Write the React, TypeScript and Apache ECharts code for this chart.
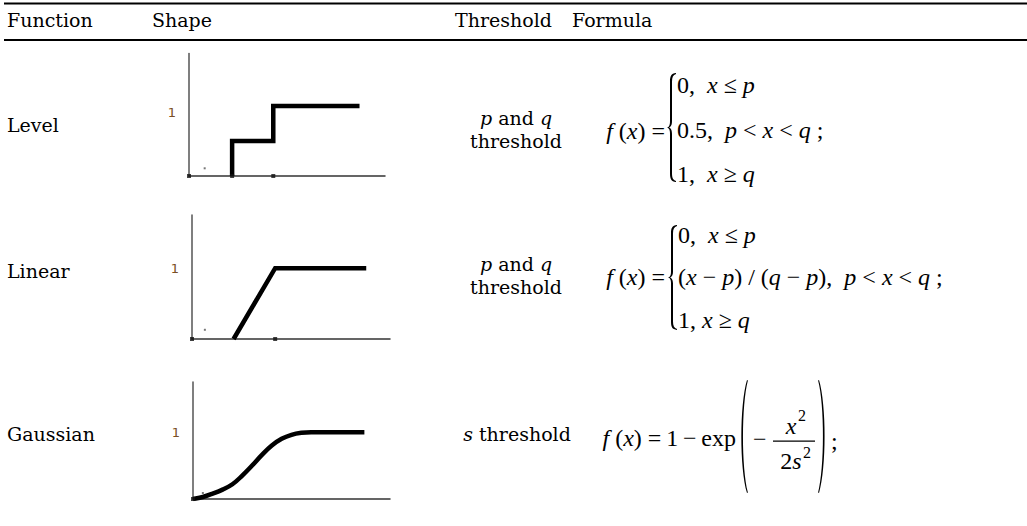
import React, { useEffect, useRef } from 'react';
import * as echarts from 'echarts';

// ---------- data ----------
const headers = ['Function', 'Shape', 'Threshold', 'Formula'];
const functionNames = ['Level', 'Linear', 'Gaussian'];
const yTickValue = 1;

const levelX = [2.2, 2.2, 4.3, 4.3, 8.7];
const levelY = [0, 0.5, 0.5, 1, 1];
const levelTicks = [0, 2.2, 4.3];

const linearX = [2.1, 4.2, 8.8];
const linearY = [0, 1, 1];
const linearTicks = [0, 4.2];

const gaussX = [0, 0.5, 1, 1.5, 2, 2.5, 3, 3.5, 4, 4.5, 5, 5.5, 6, 8.7];
const gaussY = [0, 0.03, 0.08, 0.14, 0.22, 0.35, 0.5, 0.66, 0.8, 0.9, 0.96, 0.99, 1, 1];
const gaussTicks = [0];

const strayX = [0.8, 0.65, 0.5];
const strayY = [0.11, 0.13, 0.09];

// ---------- shapes ----------
const BRACE =
  'M9,0 C4,0.5 3,3 3,8 L3,44 C3,48 2,49.5 0,50 C2,50.5 3,52 3,56 L3,92 C3,97 4,99.5 9,100 L9,99.1 C6,98.4 5,96 5,92 L5,56 C5,52 3.8,50.8 2,50 C3.8,49.2 5,48 5,44 L5,8 C5,4 6,1.6 9,0.9 Z';
const LPAREN = 'M8,0 C0.5,22 0.5,78 8,100 L8.9,99.5 C2.4,78 2.4,22 8.9,0.5 Z';
const RPAREN = 'M1,0 C8.5,22 8.5,78 1,100 L0.1,99.5 C6.6,78 6.6,22 0.1,0.5 Z';
echarts.graphic.registerShape('brace', echarts.graphic.extendPath(BRACE, {}));
echarts.graphic.registerShape('lparen', echarts.graphic.extendPath(LPAREN, {}));
echarts.graphic.registerShape('rparen', echarts.graphic.extendPath(RPAREN, {}));

const BODY = '"DejaVu Serif"';
const MATH = '"Liberation Serif"';
const MS = 24;

const rich: any = {
  i: { fontFamily: MATH, fontSize: MS, fontStyle: 'italic', fill: '#000', color: '#000' },
  n: { fontFamily: MATH, fontSize: MS, fill: '#000', color: '#000' },
  s: { fontFamily: MATH, fontSize: 16, fill: '#000', color: '#000' },
  bi: { fontFamily: BODY, fontSize: 19, fontStyle: 'italic', fill: '#000', color: '#000' },
  bn: { fontFamily: BODY, fontSize: 19, fill: '#000', color: '#000' },
};

function txt(x: number, y: number, text: string, align = 'left') {
  return {
    type: 'text',
    x,
    y,
    style: {
      text,
      rich,
      fill: '#000',
      fontFamily: BODY,
      fontSize: 19,
      align,
      verticalAlign: 'middle',
      textAlign: align,
      textVerticalAlign: 'middle',
    },
  };
}

const grids = [
  { left: 189, top: 53.5, width: 196, height: 122.5 },
  { left: 192, top: 215, width: 198, height: 124 },
  { left: 193, top: 382, width: 197, height: 117 },
];
const labelAlign = ['top', 'middle', 'middle'];

export default function App() {
  const ref = useRef<HTMLDivElement>(null);
  useEffect(() => {
    if (!ref.current) return;
    const chart = echarts.init(ref.current, undefined, { renderer: 'svg' });
    const zip = (xs: number[], ys: number[]) => xs.map((x, i) => [x, ys[i]]);
    const lines = [zip(levelX, levelY), zip(linearX, linearY), zip(gaussX, gaussY)];
    const ticks = [levelTicks, linearTicks, gaussTicks];

    const series: any[] = [];
    lines.forEach((d, i) => {
      series.push({
        type: 'line',
        xAxisIndex: i,
        yAxisIndex: i,
        data: d,
        showSymbol: false,
        smooth: i === 2 ? 0.4 : false,
        lineStyle: { color: '#000', width: 4.5, cap: 'butt', join: 'miter' },
        z: 5,
      });
      series.push({
        type: 'scatter',
        xAxisIndex: i,
        yAxisIndex: i,
        data: ticks[i].map((x) => [x, 0]),
        symbol: 'rect',
        symbolSize: 4,
        itemStyle: { color: '#111' },
        z: 6,
      });
      series.push({
        type: 'scatter',
        xAxisIndex: i,
        yAxisIndex: i,
        data: [[strayX[i], strayY[i]]],
        symbol: 'rect',
        symbolSize: 2,
        itemStyle: { color: '#555' },
        z: 6,
      });
    });

    const graphic: any[] = [
      { type: 'rect', shape: { x: 4, y: 2.5, width: 1023, height: 2 }, style: { fill: '#000' } },
      { type: 'rect', shape: { x: 4, y: 39, width: 1023, height: 2 }, style: { fill: '#000' } },
      txt(7, 20, headers[0]),
      txt(152, 20, headers[1]),
      txt(455, 20, headers[2]),
      txt(572, 20, headers[3]),
      txt(7, 125, functionNames[0]),
      txt(7, 271, functionNames[1]),
      txt(7, 434, functionNames[2]),
      // threshold column
      txt(516, 118, '{bi|p}{bn| and }{bi|q}', 'center'),
      txt(516, 141, 'threshold', 'center'),
      txt(516, 264, '{bi|p}{bn| and }{bi|q}', 'center'),
      txt(516, 287, 'threshold', 'center'),
      txt(517, 434, '{bi|s}{bn| threshold}', 'center'),
      // Level formula
      txt(665, 131, '{i|f}{n| (}{i|x}{n|) =}', 'right'),
      { type: 'brace', x: 667, y: 73, scaleY: 1.09, style: { fill: '#000' } },
      txt(677, 85, '{n|0,  }{i|x}{n| ≤ }{i|p}'),
      txt(677, 130, '{n|0.5,  }{i|p}{n| < }{i|x}{n| < }{i|q}{n| ;}'),
      txt(677, 174, '{n|1,  }{i|x}{n| ≥ }{i|q}'),
      // Linear formula
      txt(665, 277, '{i|f}{n| (}{i|x}{n|) =}', 'right'),
      { type: 'brace', x: 668, y: 225, scaleY: 1.05, style: { fill: '#000' } },
      txt(678, 235, '{n|0,  }{i|x}{n| ≤ }{i|p}'),
      txt(678, 277, '{n|(}{i|x}{n| − }{i|p}{n|) / (}{i|q}{n| − }{i|p}{n|),  }{i|p}{n| < }{i|x}{n| < }{i|q}{n| ;}'),
      txt(678, 320, '{n|1, }{i|x}{n| ≥ }{i|q}'),
      // Gaussian formula
      txt(736, 438, '{i|f}{n| (}{i|x}{n|) =\u20091\u2009−\u2009exp}', 'right'),
      { type: 'lparen', x: 739, y: 380, scaleY: 1.13, style: { fill: '#000' } },
      txt(753, 439, '{n|−}'),
      { type: 'rect', shape: { x: 773, y: 440.5, width: 42, height: 1.2 }, style: { fill: '#000' } },
      txt(791, 426, '{i|x}', 'center'),
      txt(798, 415, '{s|2}'),
      txt(791, 461, '{n|2}{i|s}', 'center'),
      txt(803, 452, '{s|2}'),
      { type: 'rparen', x: 818, y: 380, scaleY: 1.13, style: { fill: '#000' } },
      txt(831, 441, '{n|;}'),
    ];

    chart.setOption({
      animation: false,
      backgroundColor: '#fff',
      grid: grids.map((g) => ({ ...g, containLabel: false })),
      xAxis: grids.map((_, i) => ({
        type: 'value',
        gridIndex: i,
        min: 0,
        max: 10,
        axisLabel: { show: false },
        axisTick: { show: false },
        splitLine: { show: false },
        axisLine: { onZero: false, lineStyle: { color: '#333', width: 1.5 } },
      })),
      yAxis: grids.map((_, i) => ({
        type: 'value',
        gridIndex: i,
        min: 0,
        max: 1.75,
        interval: 0.25,
        axisLabel: {
          formatter: (v: number) => (Math.abs(v - yTickValue) < 1e-6 ? String(yTickValue) : ''),
          color: '#7a4f25',
          fontFamily: '"DejaVu Sans"',
          fontSize: 13,
          margin: 13,
          verticalAlign: labelAlign[i],
        },
        axisTick: { show: false },
        splitLine: { show: false },
        axisLine: { show: true, onZero: false, lineStyle: { color: '#555', width: 1.5 } },
      })),
      series,
      graphic,
    });
    return () => chart.dispose();
  }, []);

  return (
    <div
      ref={ref}
      style={{ position: 'fixed', left: 0, top: 0, width: 1027, height: 526, background: '#fff' }}
    />
  );
}
